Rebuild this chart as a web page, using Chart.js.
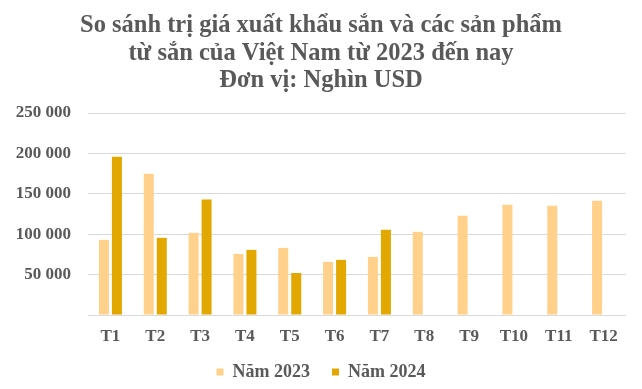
<!DOCTYPE html>
<html>
<head>
<meta charset="utf-8">
<script src="https://cdn.jsdelivr.net/npm/chart.js@4/dist/chart.umd.min.js"></script>
<style>
    html, body { margin: 0; padding: 0; background: #fff; }
    #wrap { width: 642px; height: 389px; }
</style>
</head>
<body>
<div id="wrap"><canvas id="exportChart" width="642" height="389"></canvas></div>
<script>
// Data (Nghìn USD)
const months = ['T1', 'T2', 'T3', 'T4', 'T5', 'T6', 'T7', 'T8', 'T9', 'T10', 'T11', 'T12'];
const values2023 = [93000, 174800, 101700, 75600, 83000, 65700, 71900, 102900, 122700, 136400, 135100, 141300];
const values2024 = [196000, 95500, 143000, 80600, 52000, 68200, 105400, null, null, null, null, null];
const yTicks = [0, 50000, 100000, 150000, 200000, 250000];
const titleLines = [
    'So sánh trị giá xuất khẩu sắn và các sản phẩm',
    'từ sắn của Việt Nam từ 2023 đến nay',
    'Đơn vị: Nghìn USD'
];

const textColor = '#595959';
const serif = '"Liberation Serif", "Times New Roman", serif';

function formatThousands(v) {
    return String(v).replace(/\B(?=(\d{3})+(?!\d))/g, ' ');
}

// 3-line title, tighter line spacing than the built-in title gives
const titlePlugin = {
    id: 'tightTitle',
    afterDraw(chart) {
        const ctx = chart.ctx;
        ctx.save();
        ctx.fillStyle = textColor;
        ctx.font = 'bold 24.5px ' + serif;
        ctx.textAlign = 'center';
        ctx.textBaseline = 'alphabetic';
        const baselines = [32, 60, 87];
        titleLines.forEach((line, i) => ctx.fillText(line, chart.width / 2, baselines[i]));
        ctx.restore();
    }
};

const ctx = document.getElementById('exportChart').getContext('2d');
new Chart(ctx, {
    type: 'bar',
    data: {
        labels: months,
        datasets: [
            {
                label: 'Năm 2023',
                data: values2023,
                backgroundColor: '#FFD18A',
                barPercentage: 0.77,
                categoryPercentage: 0.58
            },
            {
                label: 'Năm 2024',
                data: values2024,
                backgroundColor: '#E2A800',
                barPercentage: 0.77,
                categoryPercentage: 0.58
            }
        ]
    },
    options: {
        responsive: false,
        animation: false,
        layout: { padding: { top: 113, left: 16, right: 16, bottom: -2 } },
        plugins: {
            title: { display: false },
            tooltip: { enabled: false },
            legend: {
                position: 'bottom',
                labels: {
                    color: textColor,
                    boxWidth: 7,
                    boxHeight: 7,
                    padding: 22,
                    font: { family: serif, size: 18, weight: 'bold' }
                }
            }
        },
        scales: {
            x: {
                grid: { display: false, drawTicks: false },
                border: { display: false },
                afterFit: axis => { axis.height = 26; },
                ticks: {
                    color: textColor,
                    padding: 11,
                    maxRotation: 0,
                    font: { family: serif, size: 17, weight: 'bold' }
                }
            },
            y: {
                min: 0,
                max: 250000,
                afterBuildTicks: axis => { axis.ticks = yTicks.map(v => ({ value: v })); },
                afterFit: axis => { axis.width = 72; },
                grid: { color: '#D9D9D9', drawTicks: false },
                border: { display: false },
                ticks: {
                    color: textColor,
                    padding: 17,
                    font: { family: serif, size: 17, weight: 'bold' },
                    callback: v => v === 0 ? '' : formatThousands(v)
                }
            }
        }
    },
    plugins: [titlePlugin]
});
</script>
</body>
</html>
